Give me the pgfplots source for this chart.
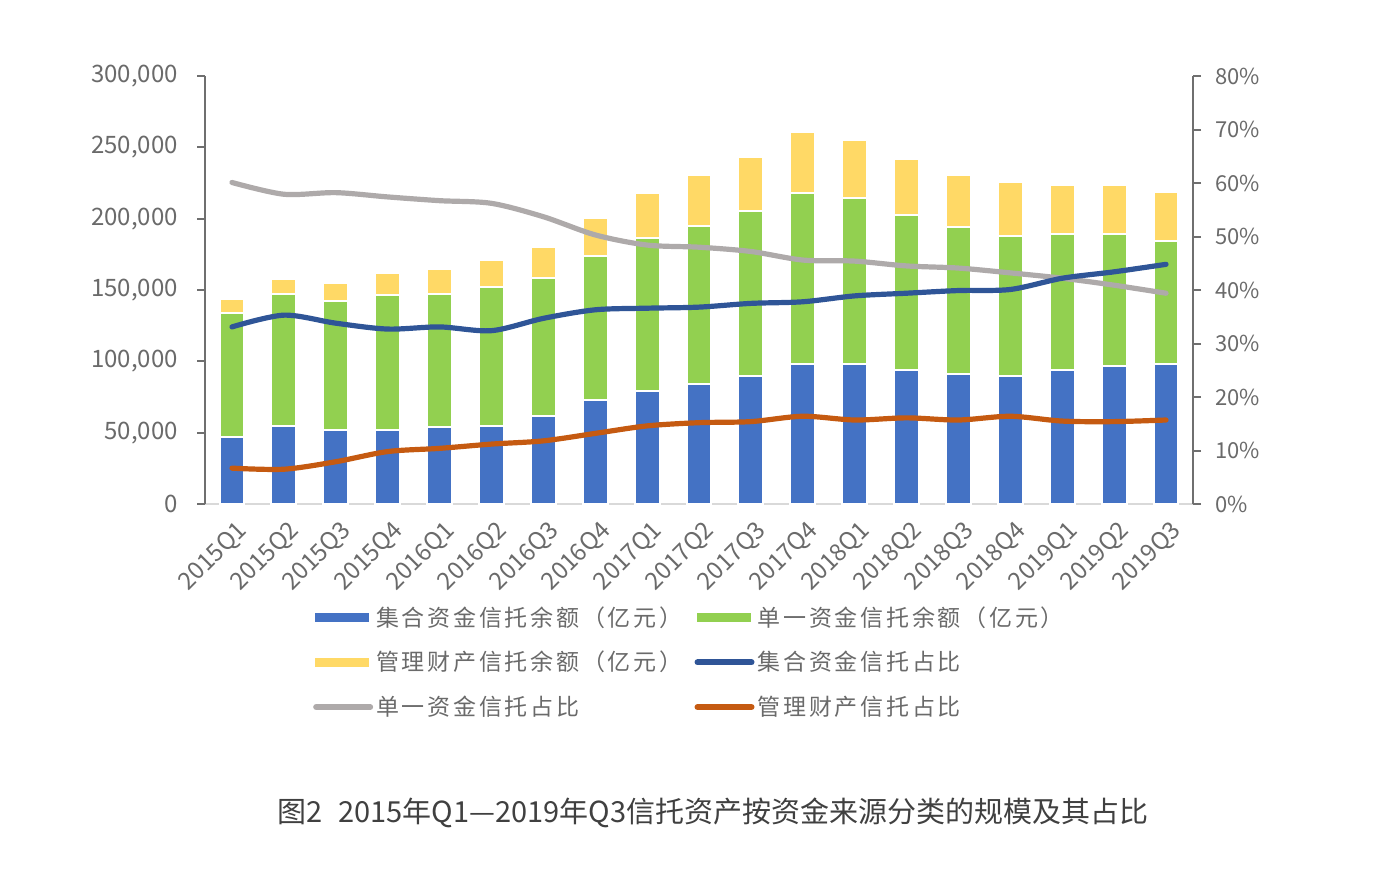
\documentclass[border=0pt]{standalone}
\usepackage{fontspec}
\setmainfont{Noto Sans CJK SC}
\usepackage{pgfplots}
\usepackage{pgfplotstable}
\pgfplotsset{compat=1.18}
\definecolor{cBlue}{HTML}{4472C4}
\definecolor{cGreen}{HTML}{92D050}
\definecolor{cYellow}{HTML}{FFD966}
\definecolor{cDark}{HTML}{2F5597}
\definecolor{cGrey}{HTML}{AEAAAA}
\definecolor{cOrange}{HTML}{C55A11}
\definecolor{cText}{HTML}{6A6A6A}
\definecolor{cAxis}{HTML}{6F6F6F}
\definecolor{cBase}{HTML}{D9D9D9}
\definecolor{cCap}{HTML}{404040}
\newfontfamily\legfont[LetterSpace=12]{Noto Sans CJK SC}

\pgfplotstableread{
x blue green yellow pj pd pg
0 47200 86500 9800 33.1 60.1 6.7
1 54900 92300 10500 35.3 57.9 6.5
2 52100 90200 12600 33.8 58.2 7.9
3 52100 94200 15400 32.7 57.4 9.8
4 54000 93200 17300 33.1 56.7 10.4
5 54900 97000 19400 32.4 56.2 11.2
6 61900 96700 21500 34.7 53.7 11.8
7 72700 100900 26900 36.3 50.3 13.2
8 79200 107000 31800 36.6 48.4 14.6
9 84300 110600 35700 36.8 48.0 15.2
10 89900 115700 37900 37.5 47.2 15.4
11 97900 120300 42800 37.8 45.6 16.4
12 97900 116400 40800 38.9 45.4 15.7
13 93900 108700 39000 39.4 44.5 16.1
14 91100 102800 36700 39.9 44.1 15.7
15 89900 98200 37600 40.1 43.2 16.4
16 93900 95100 34800 42.2 42.2 15.5
17 97000 92000 34800 43.4 40.9 15.4
18 97900 86200 34800 44.8 39.4 15.7
}\data

\pgfplotsset{
  common/.style={
    at={(102.5pt,184.5pt)}, anchor=south west,
    scale only axis, width=494pt, height=214pt,
    xmin=-0.52, xmax=18.52,
    tick align=outside, major tick length=4pt,
    ticklabel style={font=\fontsize{11}{13}\selectfont, text=cText},
    /pgf/number format/assume math mode=true,
  },
}

\begin{document}
\begin{tikzpicture}
\useasboundingbox (0pt,0pt) rectangle (700pt,436.5pt);

\begin{axis}[common,
  ymin=0, ymax=300000,
  ybar stacked, bar width=0.48,
  axis x line*=bottom, axis y line*=left,
  x axis line style={cBase, line width=1pt, -},
  y axis line style={cAxis, line width=1pt, -},
  xtick={0,...,18},
  xticklabels={2015Q1,2015Q2,2015Q3,2015Q4,2016Q1,2016Q2,2016Q3,2016Q4,2017Q1,2017Q2,2017Q3,2017Q4,2018Q1,2018Q2,2018Q3,2018Q4,2019Q1,2019Q2,2019Q3},
  xtick style={draw=none},
  xticklabel style={rotate=45, anchor=north east, inner sep=1pt, yshift=-2.5pt, font=\fontsize{12}{13}\selectfont},
  ytick={0,50000,...,300000},
  ytick style={cAxis, line width=1pt},
  yticklabel style={xshift=-6pt, font=\fontsize{12}{14}\selectfont},
  scaled y ticks=false,
  /pgf/number format/1000 sep={,},
  /pgf/number format/fixed,
  legend columns=2,
  legend style={draw=none, fill=none,
    at={(axis description cs:0.103,0)}, anchor=north west, yshift=-49pt,
    font=\legfont\fontsize{11.5}{13}\selectfont, text=cText,
    row sep=11pt,
    nodes={inner sep=0pt},
    /tikz/every odd column/.append style={column sep=1.5pt},
    /tikz/every even column/.append style={column sep=6pt},
  },
  legend cell align=left,
]
\addplot[fill=cBlue, draw=white, line width=1pt,
  legend image code/.code={\fill[cBlue] (1.5pt,-1.8pt) rectangle (27.5pt,1.8pt);}]
  table[x=x, y=blue]{\data};
\addlegendentry{集合资金信托余额（亿元）}
\addplot[fill=cGreen, draw=white, line width=1pt,
  legend image code/.code={\fill[cGreen] (1.5pt,-1.8pt) rectangle (27.5pt,1.8pt);}]
  table[x=x, y=green]{\data};
\addlegendentry{单一资金信托余额（亿元）}
\addplot[fill=cYellow, draw=white, line width=1pt,
  legend image code/.code={\fill[cYellow] (1.5pt,-1.8pt) rectangle (27.5pt,1.8pt);}]
  table[x=x, y=yellow]{\data};
\addlegendentry{管理财产信托余额（亿元）}
\addlegendimage{legend image code/.code={\draw[cDark, line width=3pt, line cap=round] (1.5pt,0pt) -- (28.5pt,0pt);}}
\addlegendentry{集合资金信托占比}
\addlegendimage{legend image code/.code={\draw[cGrey, line width=3pt, line cap=round] (1.5pt,0pt) -- (28.5pt,0pt);}}
\addlegendentry{单一资金信托占比}
\addlegendimage{legend image code/.code={\draw[cOrange, line width=3pt, line cap=round] (1.5pt,0pt) -- (28.5pt,0pt);}}
\addlegendentry{管理财产信托占比}
\end{axis}

\begin{axis}[common,
  ymin=0, ymax=80,
  axis x line=none, axis y line*=right,
  y axis line style={cAxis, line width=1pt, -},
  ytick={0,10,...,80},
  ytick style={cAxis, line width=1pt},
  yticklabel style={xshift=3.5pt},
  yticklabel={\pgfmathprintnumber{\tick}\%},
]
\addplot[cGrey, line width=2.6pt, smooth, line cap=round] table[x=x, y=pd]{\data};
\addplot[cDark, line width=2.6pt, smooth, line cap=round] table[x=x, y=pj]{\data};
\addplot[cOrange, line width=2.6pt, smooth, line cap=round] table[x=x, y=pg]{\data};
\end{axis}

\node[font=\fontsize{14.5}{17}\selectfont, text=cCap] at (356.5pt,30pt)
  {图2\hspace{0.55em}2015年Q1—2019年Q3信托资产按资金来源分类的规模及其占比};
\end{tikzpicture}
\end{document}
